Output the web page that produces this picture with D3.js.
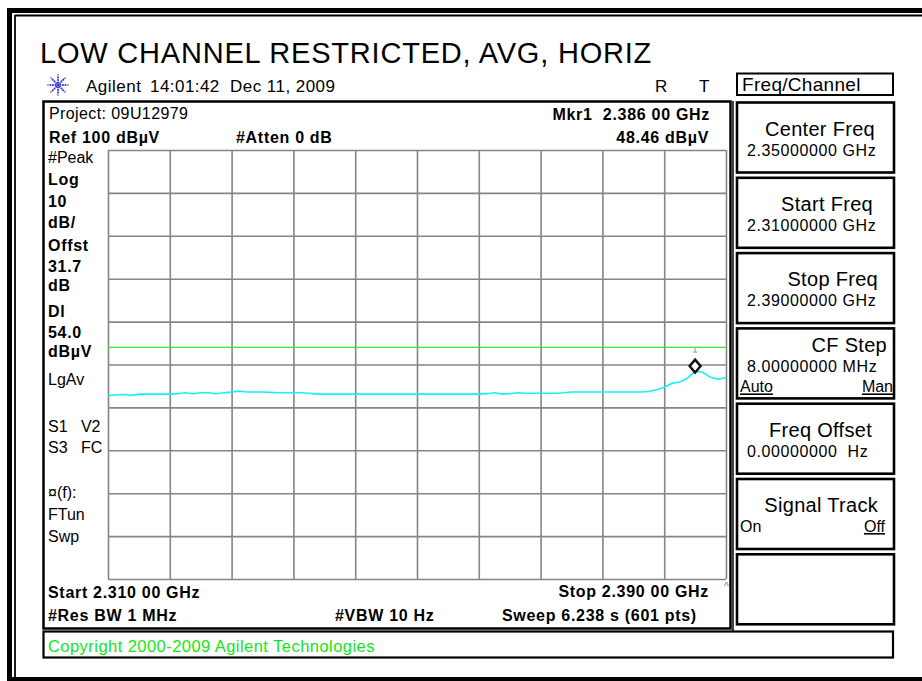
<!DOCTYPE html>
<html>
<head>
<meta charset="utf-8">
<script src="https://cdn.jsdelivr.net/npm/d3@7"></script>
<style>
  body { margin: 0; background: #fff; }
  svg { display: block; font-family: "Liberation Sans", Arial, sans-serif; }
  .b { font-weight: bold; font-size: 16px; letter-spacing: 0.7px; }
  .r { font-size: 16px; }
</style>
</head>
<body>
<svg id="chart" width="922" height="681"></svg>
<script>
const title = 'LOW CHANNEL RESTRICTED, AVG, HORIZ';
const headerText = ['Agilent', '14:01:42  Dec 11, 2009'];
const projectText = 'Project: 09U12979';
const refText = 'Ref 100 dBµV';
const attenText = '#Atten 0 dB';
const markerText = ['Mkr1  2.386 00 GHz', '48.46 dBµV'];
const bottomText = ['Start 2.310 00 GHz', 'Stop 2.390 00 GHz', '#Res BW 1 MHz', '#VBW 10 Hz', 'Sweep 6.238 s (601 pts)'];
const copyright = 'Copyright 2000-2009 Agilent Technologies';

// left annotation column: [text, bold]
const sideLabels = [
  ['#Peak', false], ['Log', true], ['10', true], ['dB/', true], ['Offst', true],
  ['31.7', true], ['dB', true], ['Dl', true], ['54.0', true], ['dBµV', true],
  ['LgAv', false], ['S1   V2', false], ['S3   FC', false], ['¤(f):', false],
  ['FTun', false], ['Swp', false]
];

const menuTitle = 'Freq/Channel';
const softkeys = [
  { label: 'Center Freq', value: '2.35000000 GHz' },
  { label: 'Start Freq', value: '2.31000000 GHz' },
  { label: 'Stop Freq', value: '2.39000000 GHz' },
  { label: 'CF Step', value: '8.00000000 MHz', left: 'Auto', right: 'Man', uLeft: true, uRight: true },
  { label: 'Freq Offset', value: '0.00000000  Hz' },
  { label: 'Signal Track', left: 'On', right: 'Off', uLeft: false, uRight: true },
  { label: '' }
];

const startGHz = 2.310;
const stopGHz = 2.390;
const refLevel = 100;
const bottomLevel = 0;
const displayLine = 54.0;
const marker = { freq: 2.386, level: 48.46 };

const xTicks = [2.310, 2.318, 2.326, 2.334, 2.342, 2.350, 2.358, 2.366, 2.374, 2.382, 2.390];
const yTicks = [0, 10, 20, 30, 40, 50, 60, 70, 80, 90, 100];

// trace, one reading per MHz from 2310 to 2390 MHz
const traceMHz = d3.range(2310, 2391);
const traceLevels = [
  42.8, 42.9, 43.0, 42.8, 43.1, 43.1, 43.1, 43.1, 43.1, 43.2,
  43.4, 43.2, 43.4, 43.4, 43.2, 43.4, 43.6, 43.8, 43.6, 43.6,
  43.6, 43.5, 43.4, 43.4, 43.4, 43.4, 43.3, 43.1, 43.1, 43.1,
  43.1, 43.1, 43.1, 43.1, 43.1, 43.1, 43.1, 43.1, 43.1, 43.1,
  43.1, 43.1, 43.1, 43.1, 43.1, 43.1, 43.1, 43.1, 43.1, 43.2,
  43.4, 43.1, 43.2, 43.4, 43.3, 43.3, 43.3, 43.3, 43.3, 43.4,
  43.6, 43.6, 43.6, 43.6, 43.6, 43.6, 43.6, 43.6, 43.6, 43.6,
  43.7, 44.1, 44.7, 45.6, 45.9, 46.8, 48.46, 48.2, 47.0, 46.6,
  46.9
];

function drawFrame(svg) {
  // outer photo frame
  svg.append('rect').attr('x', 7).attr('y', 8).attr('width', 5).attr('height', 673).attr('fill', '#000');
  svg.append('rect').attr('x', 7).attr('y', 8).attr('width', 915).attr('height', 5).attr('fill', '#000');
  svg.append('rect').attr('x', 7).attr('y', 677).attr('width', 915).attr('height', 4).attr('fill', '#000');
  svg.append('line').attr('x1', 15).attr('x2', 15).attr('y1', 15).attr('y2', 678)
    .attr('stroke', '#000').attr('stroke-width', 1.8);
  svg.append('line').attr('x1', 15).attr('x2', 922).attr('y1', 15.5).attr('y2', 15.5)
    .attr('stroke', '#000').attr('stroke-width', 1.8);

  // instrument panels
  svg.append('rect').attr('x', 43.5).attr('y', 101.5).attr('width', 687).attr('height', 527)
    .attr('fill', 'none').attr('stroke', '#000').attr('stroke-width', 2.5);
  svg.append('line').attr('x1', 733).attr('x2', 733).attr('y1', 101).attr('y2', 631)
    .attr('stroke', '#000').attr('stroke-width', 1.5);
  svg.append('rect').attr('x', 43.5).attr('y', 631.5).attr('width', 849.5).attr('height', 26)
    .attr('fill', 'none').attr('stroke', '#000').attr('stroke-width', 2.2);
}

function drawLogo(svg, cx, cy) {
  const g = svg.append('g').attr('fill', '#3a3ad0');
  d3.range(8).forEach((k) => {
    const a = k * Math.PI / 4;
    [2.5, 5, 7.5, 10].forEach((r, j) => {
      g.append('circle')
        .attr('cx', cx + r * Math.cos(a))
        .attr('cy', cy + r * Math.sin(a))
        .attr('r', j === 3 ? 0.8 : 1.1);
    });
  });
  g.append('circle').attr('cx', cx).attr('cy', cy).attr('r', 1.6);
}

function createChart() {
  const svg = d3.select('#chart');
  const grid = { left: 108, right: 726, top: 150, bottom: 579 };

  drawFrame(svg);

  svg.append('text').attr('x', 40).attr('y', 63)
    .style('font-size', '29px').style('letter-spacing', '0.8px').text(title);

  drawLogo(svg, 58, 85);
  svg.append('text').attr('x', 86).attr('y', 92).style('font-size', '17px')
    .style('letter-spacing', '0.5px').text(headerText[0]);
  svg.append('text').attr('x', 150).attr('y', 92).style('font-size', '17px')
    .style('letter-spacing', '0.45px').style('white-space', 'pre').text(headerText[1]);
  svg.append('text').attr('x', 655).attr('y', 92).style('font-size', '17px').text('R');
  svg.append('text').attr('x', 699).attr('y', 92).style('font-size', '17px').text('T');

  const xScale = d3.scaleLinear().domain([startGHz, stopGHz]).range([grid.left, grid.right]);
  const yScale = d3.scaleLinear().domain([bottomLevel, refLevel]).range([grid.bottom, grid.top]);

  // graticule
  svg.append('g')
    .attr('transform', `translate(${grid.left},0)`)
    .call(d3.axisLeft(yScale).tickValues(yTicks).tickFormat('').tickSize(-(grid.right - grid.left)))
    .call((g) => g.select('.domain').remove())
    .selectAll('line').attr('stroke', '#858585').attr('stroke-width', 1.6);

  svg.append('g')
    .attr('transform', `translate(0,${grid.bottom})`)
    .call(d3.axisBottom(xScale).tickValues(xTicks).tickFormat('').tickSize(-(grid.bottom - grid.top)))
    .call((g) => g.select('.domain').remove())
    .selectAll('line').attr('stroke', '#858585').attr('stroke-width', 1.6);

  // display line
  svg.append('line')
    .attr('x1', grid.left).attr('x2', grid.right)
    .attr('y1', yScale(displayLine)).attr('y2', yScale(displayLine))
    .attr('stroke', '#2ee82e').attr('stroke-width', 1.2);

  // trace
  const line = d3.line()
    .x((d, i) => xScale(traceMHz[i] / 1000))
    .y((d) => yScale(d));

  svg.append('path')
    .datum(traceLevels)
    .attr('d', line)
    .attr('fill', 'none')
    .attr('stroke', '#12f4f4')
    .attr('stroke-width', 1.6);

  // marker
  const mx = xScale(marker.freq);
  const my = yScale(marker.level) - 5;
  svg.append('path')
    .attr('d', `M${mx},${my - 6.5}L${mx + 5.5},${my}L${mx},${my + 6.5}L${mx - 5.5},${my}Z`)
    .attr('fill', '#fff').attr('stroke', '#111').attr('stroke-width', 2.4);
  svg.append('path')
    .attr('d', `M${mx},${my - 18}V${my - 14}M${mx - 2},${my - 14}H${mx + 2}`)
    .attr('stroke', '#999').attr('stroke-width', 1);

  // annotations
  svg.append('text').attr('class', 'r').attr('x', 49).attr('y', 119)
    .style('letter-spacing', '0.4px').text(projectText);
  svg.append('text').attr('class', 'b').attr('x', 49).attr('y', 143).text(refText);
  svg.append('text').attr('class', 'b').attr('x', 236).attr('y', 143).text(attenText);
  svg.append('text').attr('class', 'b').attr('x', 710).attr('y', 120)
    .attr('text-anchor', 'end').style('white-space', 'pre').text(markerText[0]);
  svg.append('text').attr('class', 'b').attr('x', 709).attr('y', 143)
    .attr('text-anchor', 'end').text(markerText[1]);

  const sideY = [163, 185, 207, 228, 251, 272, 291, 317, 338, 357, 385, 432, 453, 498, 520, 542];
  svg.append('g').selectAll('text')
    .data(sideLabels)
    .join('text')
    .attr('class', (d) => (d[1] ? 'b' : 'r'))
    .attr('x', 48)
    .attr('y', (d, i) => sideY[i])
    .style('white-space', 'pre')
    .text((d) => d[0]);

  svg.append('text').attr('class', 'b').attr('x', 48).attr('y', 598).text(bottomText[0]);
  svg.append('text').attr('class', 'b').attr('x', 709).attr('y', 597)
    .attr('text-anchor', 'end').text(bottomText[1]);
  svg.append('text').attr('class', 'b').attr('x', 48).attr('y', 621).text(bottomText[2]);
  svg.append('text').attr('class', 'b').attr('x', 335).attr('y', 621).text(bottomText[3]);
  svg.append('text').attr('class', 'b').attr('x', 502).attr('y', 621).text(bottomText[4]);
  svg.append('text').attr('x', 724).attr('y', 590).style('font-size', '10px')
    .attr('fill', '#777').text('^');

  svg.append('text').attr('x', 48).attr('y', 652)
    .style('font-size', '16.5px').style('letter-spacing', '0.45px')
    .attr('fill', '#14e614').text(copyright);

  // softkey menu
  svg.append('rect').attr('x', 737).attr('y', 73.5).attr('width', 156).attr('height', 21.5)
    .attr('fill', 'none').attr('stroke', '#000').attr('stroke-width', 2);
  svg.append('text').attr('x', 742).attr('y', 91).style('font-size', '19px')
    .style('letter-spacing', '0.3px').text(menuTitle);

  const labelEnd = [875, 873, 878, 887, 872, 878, 876];
  const keys = svg.append('g').selectAll('g')
    .data(softkeys)
    .join('g')
    .attr('transform', (d, i) => `translate(0,${102.5 + i * 75.3})`);

  keys.append('rect')
    .attr('x', 737).attr('y', 0).attr('width', 157).attr('height', 70)
    .attr('fill', 'none').attr('stroke', '#000').attr('stroke-width', 2.6);

  keys.append('text')
    .attr('x', (d, i) => labelEnd[i])
    .attr('y', (d) => (d.value && d.left ? 24 : 33))
    .attr('text-anchor', 'end')
    .style('font-size', '20px')
    .style('letter-spacing', '0.3px')
    .text((d) => d.label);

  keys.filter((d) => d.value).append('text')
    .attr('x', 747)
    .attr('y', (d) => (d.left ? 44 : 53))
    .style('font-size', '16px')
    .style('letter-spacing', '0.6px')
    .style('white-space', 'pre')
    .text((d) => d.value);

  keys.filter((d) => d.left).append('text')
    .attr('x', 740)
    .attr('y', (d) => (d.value ? 64 : 53))
    .style('font-size', '16px')
    .style('text-decoration', (d) => (d.uLeft ? 'underline' : 'none'))
    .text((d) => d.left);

  keys.filter((d) => d.right).append('text')
    .attr('x', (d) => (d.value ? 893 : 885))
    .attr('y', (d) => (d.value ? 64 : 53))
    .attr('text-anchor', 'end')
    .style('font-size', '16px')
    .style('text-decoration', (d) => (d.uRight ? 'underline' : 'none'))
    .text((d) => d.right);
}

createChart();
</script>
</body>
</html>
